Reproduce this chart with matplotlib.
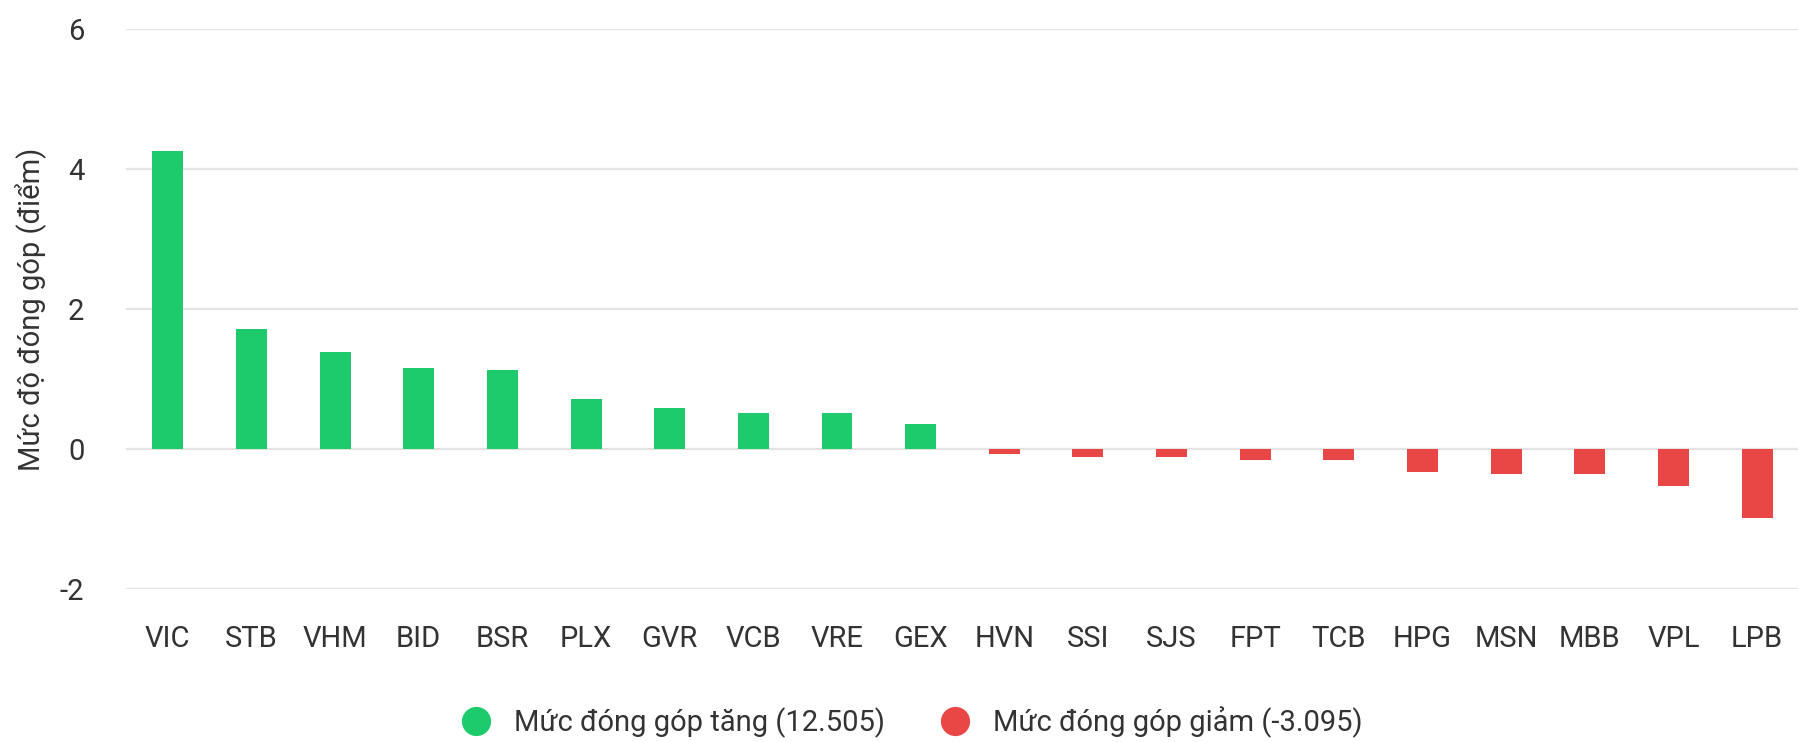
import matplotlib.pyplot as plt
from matplotlib.lines import Line2D

plt.rcParams['font.family'] = ['Roboto', 'DejaVu Sans']
plt.rcParams['axes.unicode_minus'] = False

# Data
tickers = ['VIC', 'STB', 'VHM', 'BID', 'BSR', 'PLX', 'GVR', 'VCB', 'VRE', 'GEX',
           'HVN', 'SSI', 'SJS', 'FPT', 'TCB', 'HPG', 'MSN', 'MBB', 'VPL', 'LPB']
contrib = [4.26, 1.72, 1.39, 1.16, 1.13, 0.72, 0.59, 0.52, 0.52, 0.36,
           -0.07, -0.12, -0.12, -0.15, -0.15, -0.32, -0.35, -0.35, -0.52, -0.99]
y_ticks = [-2, 0, 2, 4, 6]
legend_up = 'Mức đóng góp tăng (12.505)'
legend_down = 'Mức đóng góp giảm (-3.095)'

green = '#1dcb6d'
red = '#e94646'
text_color = '#333333'

fig = plt.figure(figsize=(17.99, 7.42), dpi=100)
ax = fig.add_axes([0.070, 0.206, 0.930, 0.755])

colors = [green if v >= 0 else red for v in contrib]
ax.bar(range(len(tickers)), contrib, width=0.37, color=colors, zorder=3)

ax.set_xlim(-0.5, len(tickers) - 0.5)
ax.set_ylim(-2, 6)
ax.set_yticks(y_ticks)
ax.set_xticks(range(len(tickers)))
ax.set_xticklabels(tickers)
ax.tick_params(axis='x', length=0, pad=26, labelsize=21, labelcolor=text_color)
ax.tick_params(axis='y', length=0, pad=30, labelsize=21, labelcolor=text_color)
ax.grid(axis='y', color='#e3e3e3', linewidth=1.6, zorder=0)
for s in ax.spines.values():
    s.set_visible(False)

ax.set_ylabel('Mức độ đóng góp (điểm)', fontsize=21, color=text_color)
ax.yaxis.set_label_coords(-0.047, 0.5)

handles = [
    Line2D([], [], marker='o', linestyle='', markersize=20, color=green),
    Line2D([], [], marker='o', linestyle='', markersize=20, color=red),
]
fig.legend(handles, [legend_up, legend_down], loc='lower center',
           bbox_to_anchor=(0.503, -0.03), ncol=2, frameon=False,
           fontsize=21, labelcolor=text_color, handletextpad=0.3,
           columnspacing=1.4)

fig.savefig('out.png', dpi=100, facecolor='white')
